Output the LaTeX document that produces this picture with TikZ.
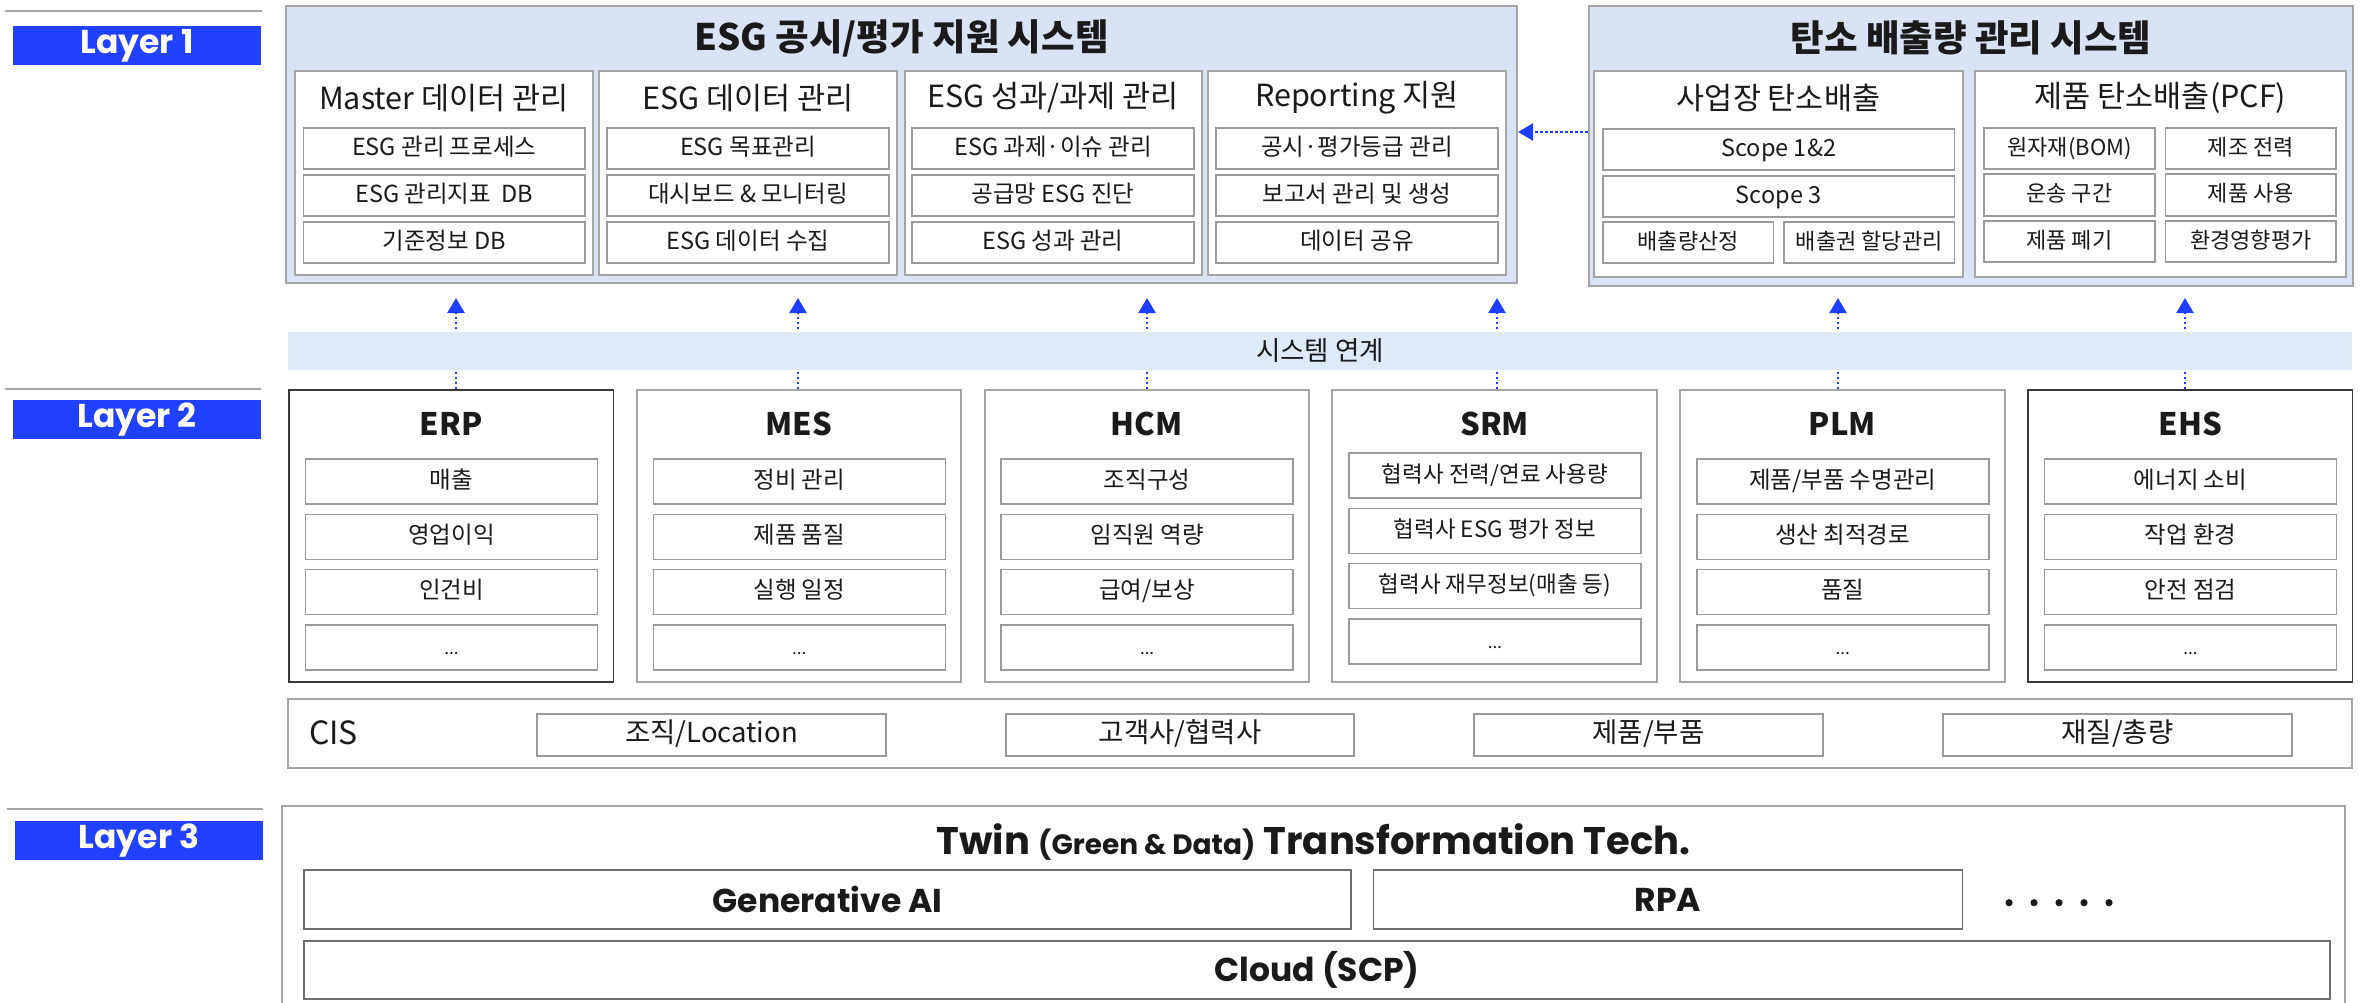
\documentclass[tikz,border=0pt]{standalone}
\usepackage{fontspec}
\setmainfont{Noto Sans CJK KR}
\newfontfamily\pop{Poppins}
\usetikzlibrary{arrows.meta}
\definecolor{lblue}{HTML}{2140FF}
\definecolor{sysfill}{HTML}{DAE3F3}
\definecolor{bandfill}{HTML}{DEEAF6}
\definecolor{gbord}{HTML}{A5A5A5}
\definecolor{gitem}{HTML}{9A9A9A}
\definecolor{dbord}{HTML}{3A3A3A}
\definecolor{tbord}{HTML}{6E6E6E}
\definecolor{arrblue}{HTML}{1F3DFF}
\definecolor{txt}{HTML}{1A1A1A}
\tikzset{
 every node/.style={text=txt},
 laybox/.style={fill=lblue, text=white, inner sep=0pt, font=\pop\bfseries\fontsize{33}{36}\selectfont},
 sepline/.style={draw=gbord, line width=2.5pt},
 sysbox/.style={fill=sysfill, draw=gbord, line width=2.2pt, inner sep=0pt},
 subbox/.style={fill=white, draw=gbord, line width=2pt, inner sep=0pt},
 itembox/.style={fill=white, draw=gitem, line width=1.6pt, inner sep=0pt, font=\fontsize{23.5}{26}\selectfont, text height=17pt, text depth=4pt},
 smallitem/.style={itembox, font=\fontsize{22}{24}\selectfont},
 dotitem/.style={itembox, font=\fontsize{17}{20}\selectfont},
 systitle/.style={font=\bfseries\fontsize{36.5}{40}\selectfont, inner sep=0pt},
 subtitle/.style={font=\fontsize{30.5}{34}\selectfont, inner sep=0pt},
 appbox/.style={fill=white, draw=gbord, line width=2pt, inner sep=0pt},
 appboxd/.style={fill=white, draw=dbord, line width=1.8pt, inner sep=0pt},
 apptitle/.style={font=\bfseries\fontsize{31}{34}\selectfont, inner sep=0pt},
 band/.style={fill=bandfill, inner sep=0pt, font=\fontsize{26.5}{30}\selectfont},
 cisbox/.style={fill=white, draw=gbord, line width=2pt, inner sep=0pt},
 cisitem/.style={fill=white, draw=gitem, line width=1.6pt, inner sep=0pt, font=\fontsize{27.5}{30}\selectfont, text height=20pt, text depth=5pt},
 l3box/.style={fill=white, draw=gbord, line width=2pt, inner sep=0pt},
 techbox/.style={fill=white, draw=tbord, line width=1.8pt, inner sep=0pt, font=\pop\bfseries\fontsize{33}{36}\selectfont},
 link/.style={draw=arrblue, line width=2.5pt, dash pattern=on 2.5pt off 2.5pt, -{Triangle[length=15pt,width=17pt]}},
}
\newcommand\rb[7]{%
 \pgfmathsetmacro\rbw{(#5)-(#3)}\pgfmathsetmacro\rbh{(#6)-(#4)}%
 \pgfmathsetmacro\rbx{((#3)+(#5))/2}\pgfmathsetmacro\rby{((#4)+(#6))/2}%
 \node[#1, minimum width=\rbw pt, minimum height=\rbh pt] (#2) at (\rbx,\rby) {#7};}
\newcommand\appcol[9]{%
 \pgfmathsetmacro\cL{#2}\pgfmathsetmacro\cR{#2+324.5}\pgfmathsetmacro\cC{#2+162.25}%
 \pgfmathsetmacro\iL{#2+16.5}\pgfmathsetmacro\iR{#2+308.5}%
 \pgfmathsetmacro\yA{#5}\pgfmathsetmacro\yB{#5+45}%
 \pgfmathsetmacro\yC{#5+55.3}\pgfmathsetmacro\yD{#5+100.3}%
 \pgfmathsetmacro\yE{#5+110.6}\pgfmathsetmacro\yF{#5+155.6}%
 \pgfmathsetmacro\yG{#5+166}\pgfmathsetmacro\yH{#5+211}%
 \rb{#3}{#1}{\cL}{390}{\cR}{682}{}
 \node[apptitle] (#1T) at (\cC,424) {#4};
 \rb{itembox}{#1a}{\iL}{\yA}{\iR}{\yB}{#6}
 \rb{itembox}{#1b}{\iL}{\yC}{\iR}{\yD}{#7}
 \rb{itembox}{#1c}{\iL}{\yE}{\iR}{\yF}{#8}
 \rb{dotitem}{#1d}{\iL}{\yG}{\iR}{\yH}{#9}
}
\begin{document}
\begin{tikzpicture}[x=1pt,y=-1pt]
\useasboundingbox[fill=white] (0,0) rectangle (2361,1002);
% ---------- Layer labels ----------
\draw[sepline] (5,11) -- (262,11);
\rb{laybox}{L1}{13}{26}{261}{65}{Layer 1}
\draw[sepline] (5,389) -- (261,389);
\rb{laybox}{L2}{13}{400}{261}{439}{Layer 2}
\draw[sepline] (7,809) -- (263,809);
\rb{laybox}{L3}{15}{821}{263}{860}{Layer 3}
% ---------- Layer 1: ESG ----------
\rb{sysbox}{esg}{286}{6}{1517}{283}{}
\node[systitle] (esgT) at (901.5,38) {ESG 공시/평가 지원 시스템};
\rb{subbox}{sm}{295}{71}{592.5}{275}{}
\rb{subbox}{sd}{599}{71}{897}{275}{}
\rb{subbox}{sp}{905}{71}{1201.5}{275}{}
\rb{subbox}{sr}{1208}{71}{1506}{275}{}
\node[subtitle] (smT) at (443.7,98) {Master 데이터 관리};
\node[subtitle] (sdT) at (748,98) {ESG 데이터 관리};
\node[subtitle] (spT) at (1053.2,98) {ESG 성과/과제 관리};
\node[subtitle] (srT) at (1357,98) {Reporting 지원};
\rb{itembox}{m1}{303.5}{128}{585}{169}{ESG 관리 프로세스}
\rb{itembox}{m2}{303.5}{175}{585}{216}{ESG 관리지표 \ DB}
\rb{itembox}{m3}{303.5}{222}{585}{263}{기준정보 DB}
\rb{itembox}{d1}{607}{128}{889}{169}{ESG 목표관리}
\rb{itembox}{d2}{607}{175}{889}{216}{대시보드 \& 모니터링}
\rb{itembox}{d3}{607}{222}{889}{263}{ESG 데이터 수집}
\rb{itembox}{p1}{912}{128}{1194}{169}{ESG 과제·이슈 관리}
\rb{itembox}{p2}{912}{175}{1194}{216}{공급망 ESG 진단}
\rb{itembox}{p3}{912}{222}{1194}{263}{ESG 성과 관리}
\rb{itembox}{r1}{1216}{128}{1498}{169}{공시·평가등급 관리}
\rb{itembox}{r2}{1216}{175}{1498}{216}{보고서 관리 및 생성}
\rb{itembox}{r3}{1216}{222}{1498}{263}{데이터 공유}
% ---------- Layer 1: Carbon ----------
\rb{sysbox}{co2}{1589}{6}{2353}{286}{}
\node[systitle] (co2T) at (1971,38) {탄소 배출량 관리 시스템};
\rb{subbox}{ss}{1594}{71}{1963}{277}{}
\rb{subbox}{sq}{1975}{71}{2346}{277}{}
\node[subtitle] (ssT) at (1778.5,98) {사업장 탄소배출};
\node[subtitle] (sqT) at (2160.5,98) {제품 탄소배출(PCF)};
\rb{itembox}{s1}{1603}{129}{1954.5}{170}{Scope 1\&2}
\rb{itembox}{s2}{1603}{176}{1954.5}{217}{Scope 3}
\rb{smallitem}{s3}{1603}{222}{1773.5}{263}{배출량산정}
\rb{smallitem}{s4}{1784}{222}{1954.5}{263}{배출권 할당관리}
\rb{smallitem}{q1}{1984}{128}{2155}{169}{원자재(BOM)}
\rb{smallitem}{q2}{2165.5}{128}{2336}{169}{제조 전력}
\rb{smallitem}{q3}{1984}{174}{2155}{216}{운송 구간}
\rb{smallitem}{q4}{2165.5}{174}{2336}{216}{제품 사용}
\rb{smallitem}{q5}{1984}{221}{2155}{262}{제품 폐기}
\rb{smallitem}{q6}{2165.5}{221}{2336}{262}{환경영향평가}
\coordinate (h) at (0,132);
\draw[link] (co2.west |- h) -- (esg.east |- h);
% ---------- Layer 2 ----------
\appcol{erp}{289}{appboxd}{ERP}{459}{매출}{영업이익}{인건비}{...}
\appcol{mes}{636.8}{appbox}{MES}{459}{정비 관리}{제품 품질}{실행 일정}{...}
\appcol{hcm}{984.6}{appbox}{HCM}{459}{조직구성}{임직원 역량}{급여/보상}{...}
\appcol{srm}{1332.4}{appbox}{SRM}{453}{\fontsize{22.5}{24}\selectfont 협력사 전력/연료 사용량}{\fontsize{22.5}{24}\selectfont 협력사 ESG 평가 정보}{\fontsize{22.5}{24}\selectfont 협력사 재무정보(매출 등)}{...}
\appcol{plm}{1680.2}{appbox}{PLM}{459}{제품/부품 수명관리}{생산 최적경로}{품질}{...}
\appcol{ehs}{2028}{appboxd}{EHS}{459}{에너지 소비}{작업 환경}{안전 점검}{...}
\coordinate (t1) at (456,298);
\coordinate (t2) at (798,298);
\coordinate (t3) at (1147,298);
\coordinate (t4) at (1497,298);
\coordinate (t5) at (1838,298);
\coordinate (t6) at (2185,298);
\draw[link] (erp.north -| t1) -- (t1);
\draw[link] (mes.north -| t2) -- (t2);
\draw[link] (hcm.north -| t3) -- (t3);
\draw[link] (srm.north -| t4) -- (t4);
\draw[link] (plm.north -| t5) -- (t5);
\draw[link] (ehs.north -| t6) -- (t6);
\rb{band}{bnd}{288}{332}{2352}{370}{시스템 연계}
% ---------- CIS ----------
\rb{cisbox}{cis}{288}{699}{2352}{768}{}
\node[font=\fontsize{32}{34}\selectfont, anchor=west, inner sep=0pt] (cisL) at (309,733) {CIS};
\rb{cisitem}{c1}{537}{714}{886}{756}{조직/Location}
\rb{cisitem}{c2}{1006}{714}{1354}{756}{고객사/협력사}
\rb{cisitem}{c3}{1474}{714}{1823}{756}{제품/부품}
\rb{cisitem}{c4}{1943}{714}{2292}{756}{재질/총량}
% ---------- Layer 3 ----------
\rb{l3box}{l3}{282}{806}{2345}{1012}{}
\node[inner sep=0pt, font=\pop\bfseries\fontsize{38.5}{42}\selectfont] (l3T) at (1313.5,842) {Twin {\fontsize{28}{30}\selectfont(Green \& Data)} Transformation Tech.};
\rb{techbox}{gai}{304}{870}{1351}{929}{Generative AI}
\rb{techbox}{rpa}{1373.5}{870}{1962.5}{929}{RPA}
\foreach \i in {0,...,4} \fill[txt] (2009+25*\i,902.7) circle (3.6pt);
\rb{techbox}{cloud}{304}{941}{2330}{999}{Cloud (SCP)}
\end{tikzpicture}
\end{document}
